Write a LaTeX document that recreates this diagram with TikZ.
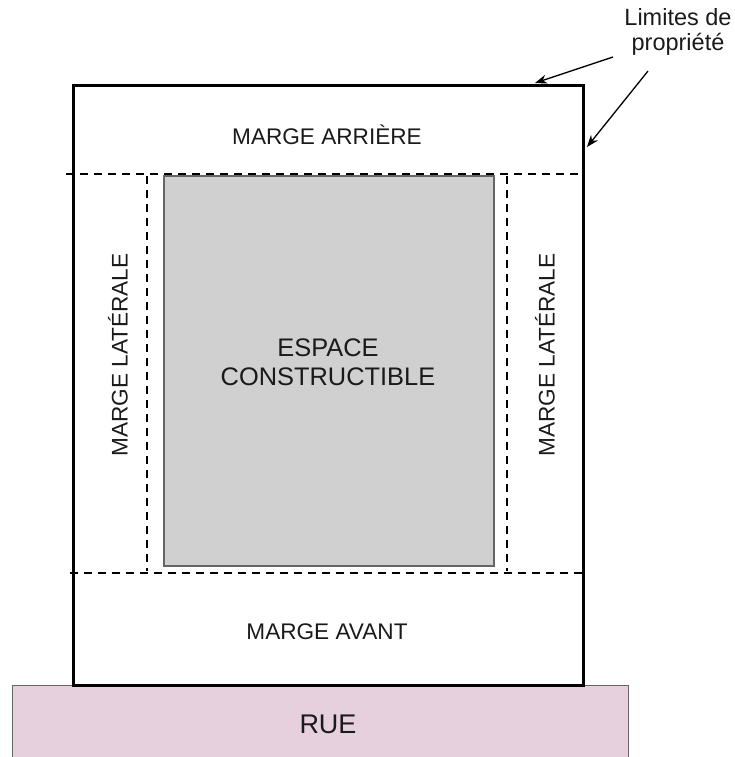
\documentclass[tikz,border=0pt]{standalone}
\usepackage{fontspec}
\setmainfont{Liberation Sans}
\usetikzlibrary{arrows.meta}
\definecolor{ruefill}{HTML}{E6D0DE}
\definecolor{buildfill}{HTML}{D0D0D0}
\definecolor{txt}{HTML}{1A1A1A}
\begin{document}
\begin{tikzpicture}[x=1pt,y=-1pt,
  lbl/.style={text=txt,font=\fontsize{22.6}{26}\selectfont,inner sep=0pt},
  dashline/.style={line width=2.6pt,dash pattern=on 8pt off 6pt},
  arr/.style={line width=1.3pt,-{Stealth[length=12pt,width=9pt]}}]
\useasboundingbox (0,0) rectangle (734,757);
% rue
\node[draw=black!60,fill=ruefill,line width=1.2pt,minimum width=616pt,minimum height=80pt,inner sep=0pt,anchor=north west] (rue) at (12,685) {};
\node[lbl,font=\fontsize{27}{30}\selectfont] (ruetxt) at (328,724) {RUE};
% property
\node[draw=black,line width=2.6pt,minimum width=510pt,minimum height=600pt,inner sep=0pt,anchor=north west] (prop) at (72,84) {};
% buildable area
\node[draw=black!60,fill=buildfill,line width=1.5pt,minimum width=330pt,minimum height=390pt,inner sep=0pt,anchor=north west] (build) at (163,175) {};
% dashed lines
\coordinate (t1) at (66,174); \coordinate (t2) at (582,174);
\coordinate (b1) at (70,573); \coordinate (b2) at (582,573);
\coordinate (l1) at (147,176); \coordinate (l2) at (147,571);
\coordinate (r1) at (507,176); \coordinate (r2) at (507,571);
\draw[dashline] (t1) -- (t2);
\draw[dashline] (b1) -- (b2);
\draw[dashline] (l1) -- (l2);
\draw[dashline] (r1) -- (r2);
% labels
\node[lbl] (arr) at (327,135) {MARGE ARRIÈRE};
\node[lbl] (av) at (327,632) {MARGE AVANT};
\node[lbl,rotate=90] (lg) at (118,355) {MARGE LATÉRALE};
\node[lbl,rotate=90] (ld) at (545,355) {MARGE LATÉRALE};
\node[lbl,font=\fontsize{25.4}{29}\selectfont,align=center] (esp) at (328,362) {ESPACE\\CONSTRUCTIBLE};
\node[lbl,font=\fontsize{23.5}{25}\selectfont,align=center] (lim) at (678,32) {Limites de\\propriété};
% arrows
\coordinate (a1s) at (613,57); \coordinate (a1e) at (535,83);
\coordinate (a2s) at (648,71); \coordinate (a2e) at (587,147);
\draw[arr] (a1s) -- (a1e);
\draw[arr] (a2s) -- (a2e);
\end{tikzpicture}
\end{document}
